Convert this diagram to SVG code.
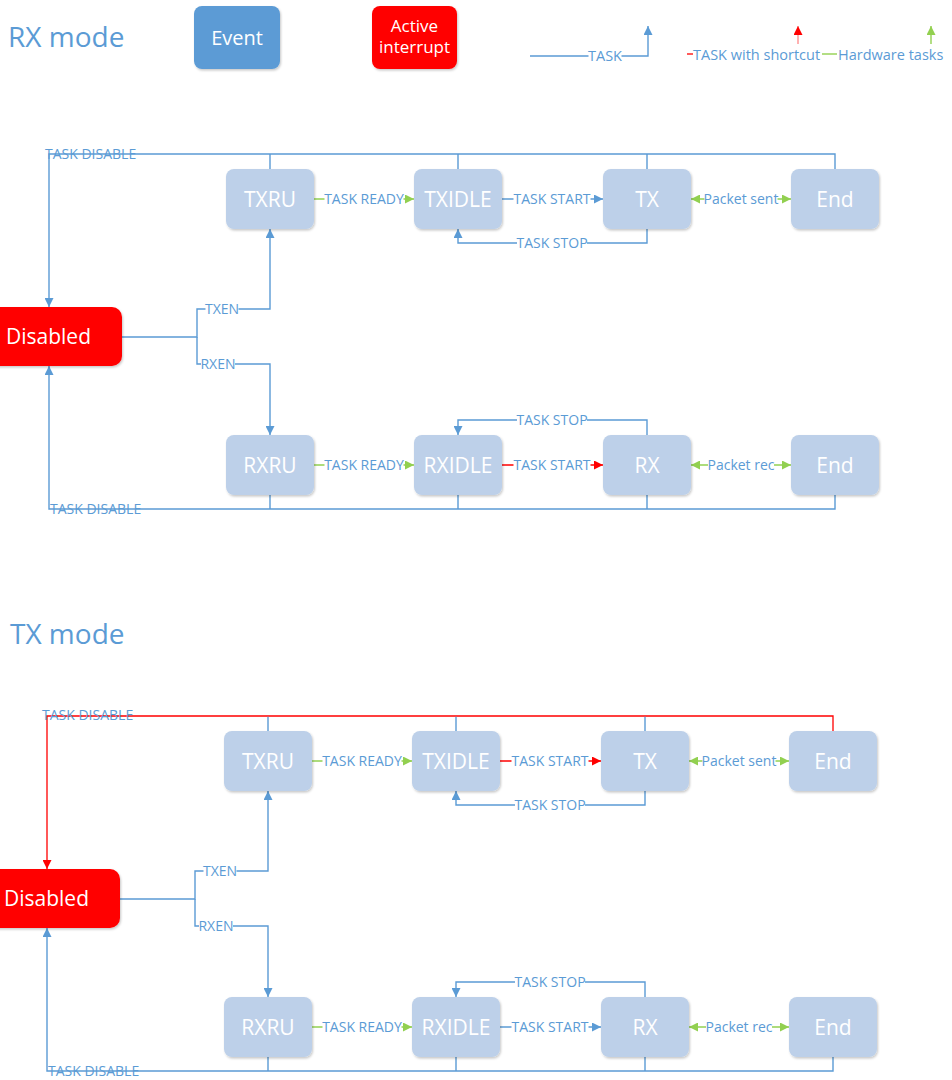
<svg xmlns="http://www.w3.org/2000/svg" width="952" height="1080" viewBox="0 0 952 1080">
  <defs>
    <style>
      text { font-family: "Open Sans", "Noto Sans", "DejaVu Sans", sans-serif; }
      .title { font-size: 28px; fill: #5B9BD5; }
      .node rect { fill: #BDD0E9; filter: url(#shadow); }
      .node text { font-size: 21px; fill: #FFFFFF; text-anchor: middle; }
      .red rect { fill: #FF0000; }
      .lbl { font-size: 14px; fill: #5B9BD5; text-anchor: middle; }
      .lbl-plain { font-size: 14px; fill: #5B9BD5; }
      .bg { fill: #FFFFFF; }
      .c { fill: none; stroke: #5B9BD5; stroke-width: 1.4; }
      .c-red { fill: none; stroke: #FF0000; stroke-width: 1.3; }
      .c-green { fill: none; stroke: #92D050; stroke-width: 1.4; }
      .a-blue { marker-end: url(#arrowBlue); }
      .a-red { marker-end: url(#arrowRed); }
      .a-green { marker-end: url(#arrowGreen); }
      .a-green2 { marker-start: url(#arrowGreen); marker-end: url(#arrowGreen); }
    </style>
    <filter id="shadow" x="-10%" y="-10%" width="130%" height="140%">
      <feDropShadow dx="1" dy="1.5" stdDeviation="1.2" flood-color="#000000" flood-opacity="0.22"/>
    </filter>
    <marker id="arrowBlue" viewBox="0 0 10 10" refX="10" refY="5" markerWidth="9" markerHeight="9" markerUnits="userSpaceOnUse" orient="auto-start-reverse">
      <path d="M0,0 L10,5 L0,10 z" fill="#5B9BD5"/>
    </marker>
    <marker id="arrowRed" viewBox="0 0 10 10" refX="10" refY="5" markerWidth="9" markerHeight="9" markerUnits="userSpaceOnUse" orient="auto-start-reverse">
      <path d="M0,0 L10,5 L0,10 z" fill="#FF0000"/>
    </marker>
    <marker id="arrowGreen" viewBox="0 0 10 10" refX="10" refY="5" markerWidth="10" markerHeight="9" markerUnits="userSpaceOnUse" orient="auto-start-reverse">
      <path d="M0,0 L10,5 L0,10 z" fill="#92D050"/>
    </marker>
  </defs>

  <!-- Legend -->
  <g id="legend">
    <text class="title" x="8" y="47">RX mode</text>
    <g id="legend-event" class="node">
      <rect x="194" y="6" width="86" height="63" rx="8" style="fill:#5B9BD5"/>
      <text x="237" y="45" style="font-size:20px">Event</text>
    </g>
    <g id="legend-interrupt" class="node red">
      <rect x="372" y="6" width="85" height="63" rx="8" style="fill:#FF0000"/>
      <text x="414.5" y="32" style="font-size:17px">Active</text>
      <text x="414.5" y="53" style="font-size:17px">interrupt</text>
    </g>
    <path class="c a-blue" d="M530,56 H648 V26"/>
    <rect class="bg" x="588.5" y="50" width="33" height="12"/>
    <text class="lbl" x="605" y="61" style="font-size:14.5px">TASK</text>
    <path class="c-red" d="M687,54 H693"/>
    <text class="lbl-plain" x="693" y="59.5" style="font-size:14.5px">TASK with shortcut</text>
    <path d="M798,44 V26" fill="none" stroke="#FF9090" stroke-width="1.4" marker-end="url(#arrowRed)"/>
    <path class="c-green" d="M822,54 H837"/>
    <text class="lbl-plain" x="838" y="59.5" style="font-size:14.5px">Hardware tasks</text>
    <path d="M931,44 V26" fill="none" stroke="#92D050" stroke-width="1.4" marker-end="url(#arrowGreen)"/>
  </g>

  <!-- RX mode state machine -->
  <g id="rx-mode">
    <g id="rx-connectors">
      <path class="c a-blue" d="M835,169 V154 H49 V307"/>
      <path class="c" d="M270,169 V154 M458,169 V154 M647,169 V154"/>
      <path class="c a-blue" d="M835,495 V509 H49 V366"/>
      <path class="c" d="M270,495 V509 M458,495 V509 M647,495 V509"/>
      <path class="c a-blue" d="M122,337 H197 V309 H270 V229"/>
      <path class="c a-blue" d="M197,337 V364 H270 V435"/>
      <path class="c-green a-green" d="M314,199 H414"/>
      <path class="c a-blue" d="M502,199 H603"/>
      <path class="c-green a-green2" d="M691,199 H791"/>
      <path class="c a-blue" d="M647,229 V243 H458 V229"/>
      <path class="c-green a-green" d="M314,465 H414"/>
      <path class="c-red a-red" d="M502,465 H603"/>
      <path class="c-green a-green2" d="M691,465 H791"/>
      <path class="c a-blue" d="M647,435 V420 H458 V435"/>
      <!-- label backdrops -->
      <rect class="bg" x="205.5" y="303" width="33" height="12"/>
      <rect class="bg" x="201" y="358" width="34" height="12"/>
      <rect class="bg" x="324.5" y="193" width="79" height="12"/>
      <rect class="bg" x="513.5" y="193" width="77" height="12"/>
      <rect class="bg" x="704.5" y="193" width="73" height="12"/>
      <rect class="bg" x="517" y="237" width="70" height="12"/>
      <rect class="bg" x="324.5" y="459" width="79" height="12"/>
      <rect class="bg" x="513.5" y="459" width="77" height="12"/>
      <rect class="bg" x="708" y="459" width="66" height="12"/>
      <rect class="bg" x="517" y="414" width="70" height="12"/>
      <text class="lbl-plain" x="45" y="159">TASK DISABLE</text>
      <text class="lbl-plain" x="50" y="514">TASK DISABLE</text>
      <text class="lbl" x="222" y="313.5">TXEN</text>
      <text class="lbl" x="218" y="368.5">RXEN</text>
      <text class="lbl" x="364" y="203.5">TASK READY</text>
      <text class="lbl" x="552" y="203.5">TASK START</text>
      <text class="lbl" x="741" y="203.5">Packet sent</text>
      <text class="lbl" x="552" y="247.5">TASK STOP</text>
      <text class="lbl" x="364" y="469.5">TASK READY</text>
      <text class="lbl" x="552" y="469.5">TASK START</text>
      <text class="lbl" x="741" y="469.5">Packet rec</text>
      <text class="lbl" x="552" y="424.5">TASK STOP</text>
    </g>
    <g id="rx-disabled" class="node red">
      <rect x="-24" y="307" width="146" height="59" rx="10"/>
      <text x="6" y="344" style="text-anchor:start">Disabled</text>
    </g>
    <g id="rx-txru" class="node"><rect x="226" y="169" width="88" height="60" rx="8"/><text x="270" y="207">TXRU</text></g>
    <g id="rx-txidle" class="node"><rect x="414" y="169" width="88" height="60" rx="8"/><text x="458" y="207">TXIDLE</text></g>
    <g id="rx-tx" class="node"><rect x="603" y="169" width="88" height="60" rx="8"/><text x="647" y="207">TX</text></g>
    <g id="rx-end-tx" class="node"><rect x="791" y="169" width="88" height="60" rx="8"/><text x="835" y="207">End</text></g>
    <g id="rx-rxru" class="node"><rect x="226" y="435" width="88" height="60" rx="8"/><text x="270" y="473">RXRU</text></g>
    <g id="rx-rxidle" class="node"><rect x="414" y="435" width="88" height="60" rx="8"/><text x="458" y="473">RXIDLE</text></g>
    <g id="rx-rx" class="node"><rect x="603" y="435" width="88" height="60" rx="8"/><text x="647" y="473">RX</text></g>
    <g id="rx-end-rx" class="node"><rect x="791" y="435" width="88" height="60" rx="8"/><text x="835" y="473">End</text></g>
  </g>

  <!-- TX mode state machine -->
  <text class="title" x="10" y="644">TX mode</text>
  <g id="tx-mode" transform="translate(-2,562)">
    <g id="tx-connectors">
      <path class="c-red a-red" d="M835,169 V154 H49 V307"/>
      <path class="c" d="M270,169 V154.7 M458,169 V154.7 M647,169 V154.7"/>
      <path class="c a-blue" d="M835,495 V509 H49 V366"/>
      <path class="c" d="M270,495 V509 M458,495 V509 M647,495 V509"/>
      <path class="c a-blue" d="M122,337 H197 V309 H270 V229"/>
      <path class="c a-blue" d="M197,337 V364 H270 V435"/>
      <path class="c-green a-green" d="M314,199 H414"/>
      <path class="c-red a-red" d="M502,199 H603"/>
      <path class="c-green a-green2" d="M691,199 H791"/>
      <path class="c a-blue" d="M647,229 V243 H458 V229"/>
      <path class="c-green a-green" d="M314,465 H414"/>
      <path class="c a-blue" d="M502,465 H603"/>
      <path class="c-green a-green2" d="M691,465 H791"/>
      <path class="c a-blue" d="M647,435 V420 H458 V435"/>
      <!-- label backdrops -->
      <rect class="bg" x="205.5" y="303" width="33" height="12"/>
      <rect class="bg" x="201" y="358" width="34" height="12"/>
      <rect class="bg" x="324.5" y="193" width="79" height="12"/>
      <rect class="bg" x="513.5" y="193" width="77" height="12"/>
      <rect class="bg" x="704.5" y="193" width="73" height="12"/>
      <rect class="bg" x="517" y="237" width="70" height="12"/>
      <rect class="bg" x="324.5" y="459" width="79" height="12"/>
      <rect class="bg" x="513.5" y="459" width="77" height="12"/>
      <rect class="bg" x="708" y="459" width="66" height="12"/>
      <rect class="bg" x="517" y="414" width="70" height="12"/>
      <text class="lbl-plain" x="44" y="158">TASK DISABLE</text>
      <text class="lbl-plain" x="50" y="514">TASK DISABLE</text>
      <text class="lbl" x="222" y="313.5">TXEN</text>
      <text class="lbl" x="218" y="368.5">RXEN</text>
      <text class="lbl" x="364" y="203.5">TASK READY</text>
      <text class="lbl" x="552" y="203.5">TASK START</text>
      <text class="lbl" x="741" y="203.5">Packet sent</text>
      <text class="lbl" x="552" y="247.5">TASK STOP</text>
      <text class="lbl" x="364" y="469.5">TASK READY</text>
      <text class="lbl" x="552" y="469.5">TASK START</text>
      <text class="lbl" x="741" y="469.5">Packet rec</text>
      <text class="lbl" x="552" y="424.5">TASK STOP</text>
    </g>
    <g id="tx-disabled" class="node red">
      <rect x="-24" y="307" width="146" height="59" rx="10"/>
      <text x="6" y="344" style="text-anchor:start">Disabled</text>
    </g>
    <g id="tx-txru" class="node"><rect x="226" y="169" width="88" height="60" rx="8"/><text x="270" y="207">TXRU</text></g>
    <g id="tx-txidle" class="node"><rect x="414" y="169" width="88" height="60" rx="8"/><text x="458" y="207">TXIDLE</text></g>
    <g id="tx-tx" class="node"><rect x="603" y="169" width="88" height="60" rx="8"/><text x="647" y="207">TX</text></g>
    <g id="tx-end-tx" class="node"><rect x="791" y="169" width="88" height="60" rx="8"/><text x="835" y="207">End</text></g>
    <g id="tx-rxru" class="node"><rect x="226" y="435" width="88" height="60" rx="8"/><text x="270" y="473">RXRU</text></g>
    <g id="tx-rxidle" class="node"><rect x="414" y="435" width="88" height="60" rx="8"/><text x="458" y="473">RXIDLE</text></g>
    <g id="tx-rx" class="node"><rect x="603" y="435" width="88" height="60" rx="8"/><text x="647" y="473">RX</text></g>
    <g id="tx-end-rx" class="node"><rect x="791" y="435" width="88" height="60" rx="8"/><text x="835" y="473">End</text></g>
  </g>
</svg>
